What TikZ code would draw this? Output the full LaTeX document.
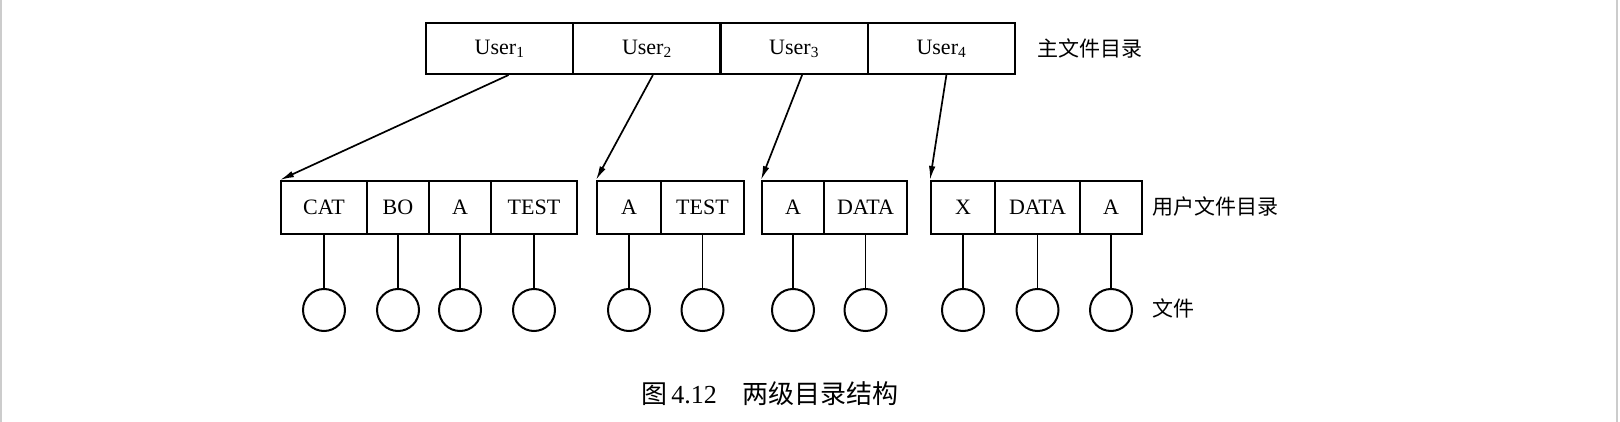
\documentclass[tikz,border=0pt]{standalone}
\usepackage{fontspec}
\setmainfont{Liberation Serif}
\newfontfamily\cjk{Noto Sans CJK SC}
\usetikzlibrary{positioning, arrows.meta}

\begin{document}
\begin{tikzpicture}[x=1pt, y=-1pt,
          cell/.style={rectangle, draw, line width=2pt, inner sep=0pt,
                       minimum height=53pt, font=\fontsize{22}{25}\selectfont},
          ucell/.style={cell, minimum height=51pt, minimum width=147.25pt},
          file/.style={circle, draw, line width=2pt, minimum size=42pt, inner sep=0pt},
          arr/.style={-{Latex[length=14pt, width=6.5pt]}, line width=1.7pt},
          lbl/.style={anchor=west, inner sep=0pt, font=\cjk\fontsize{21}{24}\selectfont}
        ]
        \useasboundingbox (0,0) rectangle (1620,422);
        \draw[gray!40, line width=2pt] (1,0) -- (1,422);
        \draw[gray!40, line width=2pt] (1617,0) -- (1617,422);

        % master directory
        \node[ucell] (u1) at (499.6,48.5) {User\textsubscript{1}};
        \node[ucell] (u2) at (646.9,48.5) {User\textsubscript{2}};
        \node[ucell] (u3) at (794.1,48.5) {User\textsubscript{3}};
        \node[ucell] (u4) at (941.4,48.5) {User\textsubscript{4}};
        \node[lbl] (mfd) at (1037,48) {主文件目录};

        % user directories
        \node[cell, minimum width=86pt] (cat)   at (324,207.5)   {CAT};
        \node[cell, minimum width=62pt] (bo)    at (398,207.5)   {BO};
        \node[cell, minimum width=62pt] (aa)    at (460,207.5)   {A};
        \node[cell, minimum width=86pt] (testa) at (534,207.5)   {TEST};
        \node[cell, minimum width=64pt] (ab)    at (629,207.5)   {A};
        \node[cell, minimum width=83pt] (testb) at (702.5,207.5) {TEST};
        \node[cell, minimum width=62pt] (ac)    at (793,207.5)   {A};
        \node[cell, minimum width=83pt] (datac) at (865.5,207.5) {DATA};
        \node[cell, minimum width=64pt] (xd)    at (963,207.5)   {X};
        \node[cell, minimum width=85pt] (datad) at (1037.5,207.5){DATA};
        \node[cell, minimum width=62pt] (ad)    at (1111,207.5)  {A};
        \node[lbl] (ufd) at (1152,207) {用户文件目录};

        % files
        \foreach \c in {cat,bo,aa,testa,ab,testb,ac,datac,xd,datad,ad} {
          \node[file, below=53pt of \c] (f-\c) {};
          \draw[line width=1.8pt] (\c.south) -- (f-\c.north);
        }
        \node[lbl] (fl) at (1152,308) {文件};

        \draw[arr] ([xshift=9pt]u1.south) -- (cat.north west);
        \draw[arr] ([xshift=6pt]u2.south) -- (ab.north west);
        \draw[arr] ([xshift=8pt]u3.south) -- (ac.north west);
        \draw[arr] ([xshift=5pt]u4.south) -- (xd.north west);

        \node[font=\fontsize{26}{30}\selectfont, inner sep=0pt] (cap) at (770,394)
              {{\cjk 图}\,4.12\hspace{1em}{\cjk 两级目录结构}};
      \end{tikzpicture}
\end{document}
